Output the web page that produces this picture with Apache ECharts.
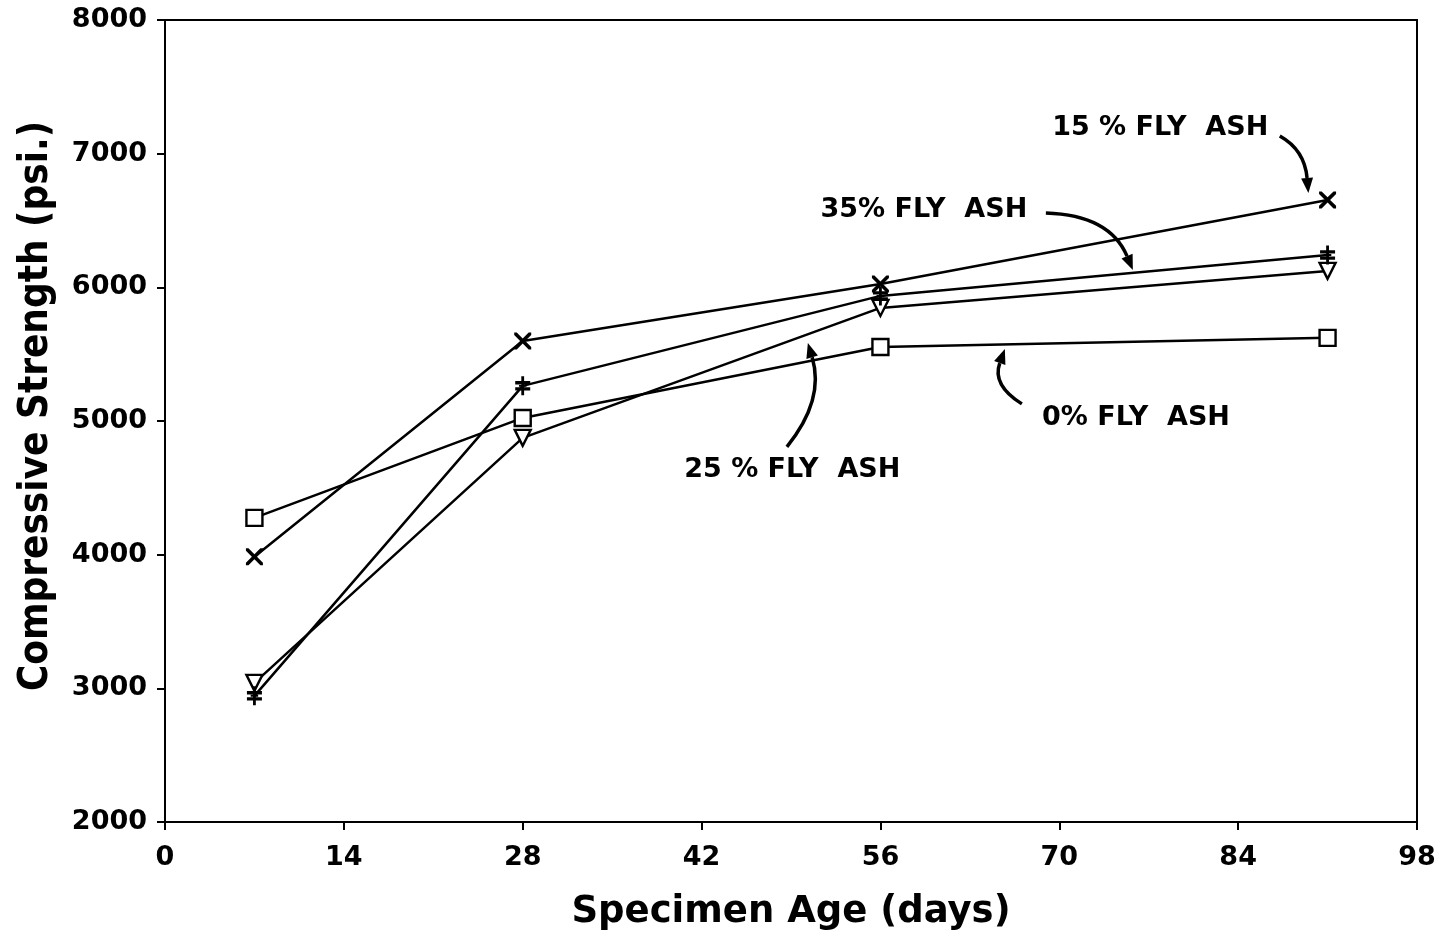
<!DOCTYPE html>
<html>
<head>
<meta charset="utf-8">
<script src="https://cdn.jsdelivr.net/npm/echarts@6/dist/echarts.min.js"></script>
<style>
  html, body { margin: 0; padding: 0; background: #fff; }
  #chart { width: 1445px; height: 932px; }
</style>
</head>
<body>
<div id="chart"></div>
<script>
// Specimen ages (days) at which cylinders were tested
const ages = [7, 28, 56, 91];

// Compressive strength (psi) by fly ash replacement level
const flyAsh0  = [4275, 5023, 5554, 5622];
const flyAsh15 = [3984, 5599, 6025, 6654];
const flyAsh25 = [3041, 4874, 5846, 6123];
const flyAsh35 = [2944, 5263, 5936, 6242];

// Axis ticks
const xTicks = [0, 14, 28, 42, 56, 70, 84, 98];
const yTicks = [2000, 3000, 4000, 5000, 6000, 7000, 8000];

// Annotation labels: [text, x, y] in data units
const notes = [
  ['15 % FLY  ASH', 77.9, 7190],
  ['35% FLY  ASH', 59.4, 6580],
  ['25 % FLY  ASH', 49.1, 4634],
  ['0% FLY  ASH', 76.0, 5023]
];
// Curved leader arrows in data units: [start, control, end]
const arrows = [
  [[87.26, 7132], [89.2, 7028], [89.5, 6706]],
  [[68.95, 6557], [73.95, 6542], [75.76, 6130]],
  [[48.68, 4807], [51.65, 5158], [50.32, 5584]],
  [[67.07, 5128], [64.72, 5270], [65.74, 5539]]
];

const FONT = 'DejaVu Sans';

const crossPath = 'path://M0,0L3,0L10,7L17,0L20,0L20,3L13,10L20,17L20,20L17,20L10,13L3,20L0,20L0,17L7,10L0,3Z';
const starPath = 'path://M8.5,0L11.5,0L11.5,20L8.5,20Z M2,5L18,5L18,8.5L2,8.5Z M2,11.5L18,11.5L18,15L2,15Z M6,9L14,9L14,11L6,11Z';

function pairs(vals) {
  return ages.map((a, i) => [a, vals[i]]);
}

const openStyle = { color: '#fff', borderColor: '#000', borderWidth: 2.4 };
const solidStyle = { color: '#000', borderWidth: 0 };
const lineStyle = { color: '#000', width: 2.5 };

const chart = echarts.init(document.getElementById('chart'));

const option = {
  backgroundColor: '#fff',
  animation: false,
  grid: {
    left: 165, right: 28, top: 20, bottom: 110,
    containLabel: false, outerBoundsMode: 'none',
    show: true, borderColor: '#000', borderWidth: 2
  },
  xAxis: {
    type: 'value',
    min: 0, max: 98, interval: 14,
    name: 'Specimen Age (days)',
    nameLocation: 'middle',
    nameGap: 72,
    nameTextStyle: { fontFamily: FONT, fontWeight: 'bold', fontSize: 37, color: '#000' },
    axisLine: { show: true, lineStyle: { color: '#000', width: 2 } },
    axisTick: { show: true, inside: false, length: 8, lineStyle: { color: '#000', width: 2 } },
    axisLabel: {
      fontFamily: FONT, fontWeight: 'bold', fontSize: 27, color: '#000', margin: 22,
      formatter: v => xTicks.includes(v) ? String(v) : ''
    },
    splitLine: { show: false }
  },
  yAxis: {
    type: 'value',
    min: 2000, max: 8000, interval: 1000,
    name: 'Compressive Strength (psi.)',
    nameLocation: 'middle',
    nameGap: 108,
    nameTextStyle: {
      fontFamily: 'DejaVu Sans Condensed, Liberation Sans', fontWeight: 'bold', fontSize: 40, color: '#000',
      padding: [0, 0, 0, 30]
    },
    axisLine: { show: true, lineStyle: { color: '#000', width: 2 } },
    axisTick: { show: true, inside: false, length: 8, lineStyle: { color: '#000', width: 2 } },
    axisLabel: {
      fontFamily: FONT, fontWeight: 'bold', fontSize: 27, color: '#000', margin: 18,
      formatter: v => yTicks.includes(v) ? String(v) : ''
    },
    splitLine: { show: false }
  },
  series: [
    {
      name: '0% FLY ASH', type: 'line', data: pairs(flyAsh0),
      symbol: 'rect', symbolSize: 16, itemStyle: openStyle, lineStyle: lineStyle, z: 3,
      markPoint: {
        silent: true, symbol: 'circle', symbolSize: 1,
        itemStyle: { color: 'rgba(0,0,0,0)' },
        label: {
          show: true, position: 'inside', color: '#000',
          fontFamily: FONT, fontWeight: 'bold', fontSize: 27,
          formatter: p => p.name
        },
        data: notes.map(n => ({ name: n[0], coord: [n[1], n[2]] }))
      }
    },
    {
      name: '15% FLY ASH', type: 'line', data: pairs(flyAsh15),
      symbol: crossPath, symbolSize: 17, itemStyle: solidStyle, lineStyle: lineStyle, z: 3
    },
    {
      name: '25% FLY ASH', type: 'line', data: pairs(flyAsh25),
      symbol: 'triangle', symbolRotate: 180, symbolSize: 16, itemStyle: openStyle, lineStyle: lineStyle, z: 3
    },
    {
      name: '35% FLY ASH', type: 'line', data: pairs(flyAsh35),
      symbol: starPath, symbolSize: [15, 19], itemStyle: solidStyle, lineStyle: lineStyle, z: 4
    }
  ]
};

chart.setOption(option);

// Curved leader arrows, placed through the grid's own coordinate system
function buildArrows() {
  const els = [];
  arrows.forEach(a => {
    const p0 = chart.convertToPixel({ gridIndex: 0 }, a[0]);
    const pc = chart.convertToPixel({ gridIndex: 0 }, a[1]);
    const p1 = chart.convertToPixel({ gridIndex: 0 }, a[2]);
    const dx = p1[0] - pc[0], dy = p1[1] - pc[1];
    const len = Math.hypot(dx, dy) || 1;
    const ux = dx / len, uy = dy / len;
    const headL = 15, headW = 6;
    const bx = p1[0] - ux * headL, by = p1[1] - uy * headL;
    els.push({
      type: 'bezierCurve', silent: true, z: 10,
      shape: { x1: p0[0], y1: p0[1], cpx1: pc[0], cpy1: pc[1], x2: bx, y2: by },
      style: { stroke: '#000', lineWidth: 3.5, fill: null }
    });
    els.push({
      type: 'polygon', silent: true, z: 10,
      shape: { points: [[p1[0], p1[1]], [bx - uy * headW, by + ux * headW], [bx + uy * headW, by - ux * headW]] },
      style: { fill: '#000' }
    });
  });
  chart.setOption({ graphic: { elements: els } });
}
buildArrows();
</script>
</body>
</html>
